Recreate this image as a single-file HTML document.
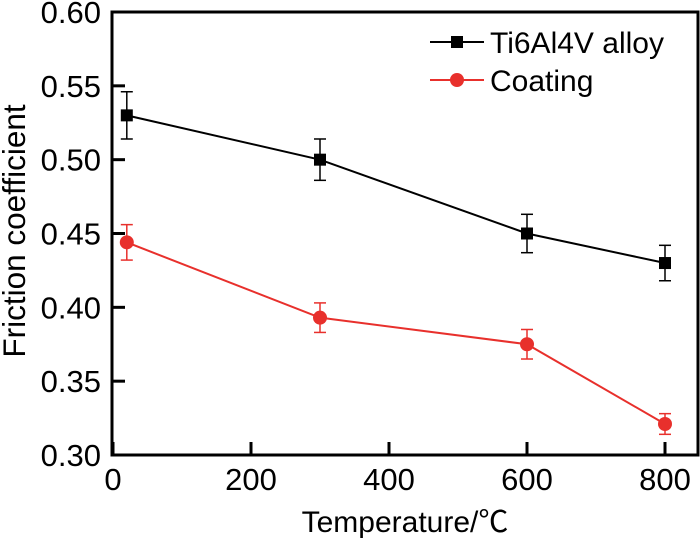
<!DOCTYPE html>
<html><head><meta charset="utf-8"><style>
body{margin:0;background:#fff;}
svg{display:block;font-family:"Liberation Sans","Noto Sans CJK SC",sans-serif;}
</style></head><body>
<svg id="chart" width="700" height="538"></svg>
<script>
const temps=[20,300,600,800];
const tiValues=[0.530,0.500,0.450,0.430];
const tiErr=[0.016,0.014,0.013,0.012];
const coatValues=[0.444,0.393,0.375,0.321];
const coatErr=[0.012,0.010,0.010,0.007];
const xTicks=[0,200,400,600,800];
const yTicks=[0.30,0.35,0.40,0.45,0.50,0.55,0.60];
const L=112,R=698,T=12,B=455;
const sx=v=>113+v*0.69;
const sy=v=>B-(v-0.30)/0.30*(B-T);
const svg=document.getElementById('chart');
const NS='http://www.w3.org/2000/svg';
function mk(tag,attrs,parent){const e=document.createElementNS(NS,tag);for(const k in attrs)e.setAttribute(k,attrs[k]);(parent||svg).appendChild(e);return e;}
const frame=mk('rect',{x:L,y:T,width:R-L,height:B-T,fill:'none',stroke:'#000','stroke-width':3});


xTicks.forEach(t=>{
  const tk=mk('line',{x1:sx(t),x2:sx(t),y1:B,y2:B-13,stroke:'#000','stroke-width':3});
  
  
  const lb=mk('text',{x:sx(t),y:490,'text-anchor':'middle','font-size':31});
  lb.textContent=t;
  
  
});
yTicks.forEach(t=>{
  const tk=mk('line',{x1:L,x2:L+13,y1:sy(t),y2:sy(t),stroke:'#000','stroke-width':3});
  
  
  const lb=mk('text',{x:101,y:sy(t)+11,'text-anchor':'end','font-size':31});
  lb.textContent=t.toFixed(2);
  
  
});
const xt=mk('text',{x:405,y:532,'text-anchor':'middle','font-size':30});
xt.textContent='Temperature/℃';


const yt=mk('text',{x:25,y:231,'text-anchor':'middle','font-size':31.5,transform:'rotate(-90 25 231)'});
yt.textContent='Friction coefficient';


function series(vals,errs,color,shape,name){
  const pts=vals.map((v,i)=>sx(temps[i])+','+sy(v)).join(' ');
  const pl=mk('polyline',{points:pts,fill:'none',stroke:color,'stroke-width':2});
  
  
  vals.forEach((v,i)=>{
    const x=sx(temps[i]),y1=sy(v+errs[i]),y2=sy(v-errs[i]);
    const g=mk('g',{stroke:color,'stroke-width':1.5});
    
    
    mk('line',{x1:x,x2:x,y1:y1,y2:y2},g);
    mk('line',{x1:x-6,x2:x+6,y1:y1,y2:y1},g);
    mk('line',{x1:x-6,x2:x+6,y1:y2,y2:y2},g);
    let m;
    if(shape==='sq') m=mk('rect',{x:x-6,y:sy(v)-6,width:12,height:12,fill:color});
    else m=mk('circle',{cx:x,cy:sy(v),r:7,fill:color});
    
    
  });
}
series(tiValues,tiErr,'#000','sq','ti6al4v');
series(coatValues,coatErr,'#e8302c','ci','coating');
function legend(y,color,shape,label,name){
  const g=mk('g',{});
  
  
  mk('line',{x1:430,x2:484,y1:y,y2:y,stroke:color,'stroke-width':2},g);
  if(shape==='sq') mk('rect',{x:451,y:y-6,width:12,height:12,fill:color},g);
  else mk('circle',{cx:457,cy:y,r:7,fill:color},g);
  const t=mk('text',{x:490,y:y+11,'font-size':30},g);
  t.textContent=label;
}
legend(42,'#000','sq','Ti6Al4V alloy','legend-entry-ti6al4v');
legend(80,'#e8302c','ci','Coating','legend-entry-coating');
</script>
</body></html>
